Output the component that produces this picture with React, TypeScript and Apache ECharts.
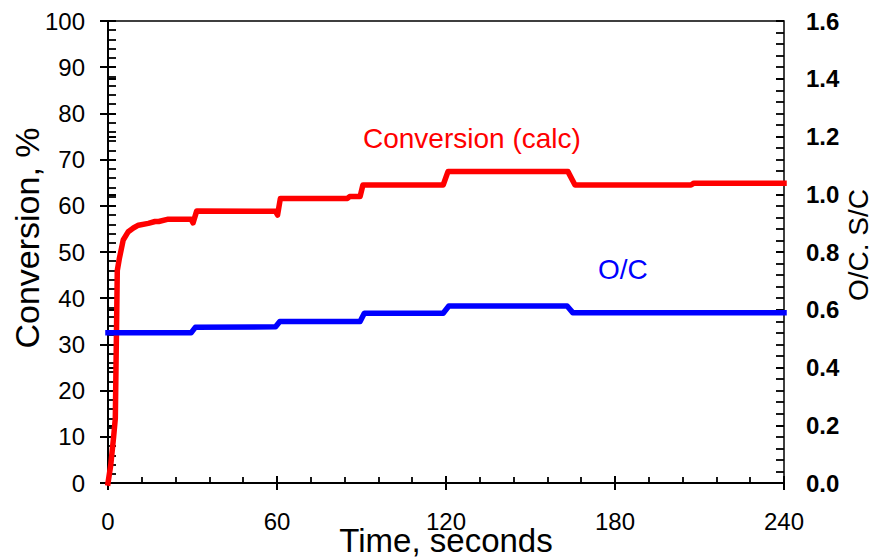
import React, { useEffect, useRef } from "react";
import * as echarts from "echarts";

const FONT = "'Liberation Sans', Arial, sans-serif";

// Conversion (calc), % — left axis
const convTime = [0, 1, 2, 2.6, 3.3, 4, 5.4, 7.2, 9, 10.8, 14.3, 16.7, 18, 21.4, 29.5, 30.2, 31.5, 59.5, 60.2, 61.2, 85, 85.8, 89.5, 90.5, 119, 120.7, 163.3, 165.8, 207, 208, 240];
const convValues = [0, 4, 10, 14, 46, 48.5, 52.6, 54.4, 55.2, 55.8, 56.2, 56.6, 56.6, 57.1, 57.1, 56.3, 58.9, 58.8, 58.0, 61.6, 61.6, 62.0, 62.0, 64.5, 64.5, 67.4, 67.4, 64.5, 64.5, 64.9, 64.9];

// O/C — right axis
const ocTime = [0, 29.5, 31, 59.5, 61, 89.5, 91, 119, 121, 163, 165, 240];
const ocValues = [0.52, 0.52, 0.539, 0.541, 0.559, 0.559, 0.588, 0.588, 0.613, 0.613, 0.59, 0.59];

const xTicks = { min: 0, max: 240, interval: 60 };
const leftTicks = { min: 0, max: 100, interval: 10 };
const rightTicks = { min: 0, max: 1.6, interval: 0.2 };

const BLACK = "#000";

export default function App() {
  const ref = useRef<HTMLDivElement>(null);
  useEffect(() => {
    document.body.style.margin = "0";
    document.body.style.overflow = "hidden";
    if (!ref.current) return;
    const chart = echarts.init(ref.current, null, { renderer: "svg" });
    const tickLine = { color: BLACK, width: 2 };
    const baseX = { type: "value", ...xTicks, position: "bottom", splitLine: { show: false } };
    const option: any = {
      animation: false,
      grid: {
        left: 108,
        right: 90,
        top: 21,
        bottom: 76,
        containLabel: false,
        outerBoundsMode: "none",
        show: true,
        borderColor: BLACK,
        borderWidth: 1.5,
      },
      xAxis: [
        {
          ...baseX,
          name: "Time, seconds",
          nameLocation: "middle",
          nameGap: 41,
          nameMoveOverlap: false,
          nameTextStyle: { fontSize: 33, fontFamily: FONT, color: BLACK },
          axisLine: { show: true, lineStyle: { color: BLACK, width: 2 } },
          axisTick: { show: true, inside: false, length: 7, lineStyle: tickLine },
          axisLabel: { fontSize: 24, fontFamily: FONT, color: BLACK, margin: 26 },
        },
        {
          ...baseX,
          axisLine: { show: false },
          axisTick: { show: true, inside: true, length: 7, lineStyle: tickLine },
          minorTick: { show: true, splitNumber: 5, length: 6, lineStyle: { color: BLACK, width: 1.8 } },
          axisLabel: { show: false },
        },
      ],
      yAxis: [
        {
          type: "value",
          ...leftTicks,
          position: "left",
          name: "Conversion, %",
          nameLocation: "middle",
          nameGap: 64,
          nameMoveOverlap: false,
          nameTextStyle: { fontSize: 34, fontFamily: FONT, color: BLACK, padding: [0, 0, 0, 28] },
          axisLine: { show: true, lineStyle: { color: BLACK, width: 2 } },
          axisTick: { show: true, inside: false, length: 8, lineStyle: tickLine },
          axisLabel: { fontSize: 24, fontFamily: FONT, color: BLACK, margin: 23 },
          splitLine: { show: false },
        },
        {
          type: "value",
          ...rightTicks,
          position: "right",
          name: "O/C. S/C",
          nameLocation: "middle",
          nameRotate: 90,
          nameGap: 60,
          nameMoveOverlap: false,
          nameTextStyle: { fontSize: 28, fontFamily: FONT, color: BLACK, padding: [0, 0, 0, 14] },
          axisLine: { show: true, lineStyle: { color: BLACK, width: 2 } },
          axisTick: { show: true, inside: false, length: 8, lineStyle: tickLine },
          axisLabel: {
            fontSize: 24,
            fontWeight: "bold",
            fontFamily: FONT,
            color: BLACK,
            margin: 22,
            formatter: (v: number) => v.toFixed(1),
          },
          splitLine: { show: false },
        },
        {
          type: "value",
          ...leftTicks,
          position: "left",
          axisLine: { show: false },
          axisTick: { show: true, inside: true, length: 8, lineStyle: tickLine },
          minorTick: { show: true, splitNumber: 5, length: 8, lineStyle: { color: BLACK, width: 1.8 } },
          axisLabel: { show: false },
          splitLine: { show: false },
        },
        {
          type: "value",
          ...rightTicks,
          position: "right",
          axisLine: { show: false },
          axisTick: { show: true, inside: true, length: 8, lineStyle: tickLine },
          minorTick: { show: true, splitNumber: 5, length: 8, lineStyle: { color: BLACK, width: 1.8 } },
          axisLabel: { show: false },
          splitLine: { show: false },
        },
      ],
      series: [
        {
          name: "Conversion (calc)",
          type: "line",
          xAxisIndex: 0,
          yAxisIndex: 0,
          data: convTime.map((t, i) => [t, convValues[i]]),
          symbol: "none",
          clip: false,
          lineStyle: { color: "#ff0000", width: 5.5, cap: "square", join: "round" },
          z: 3,
        },
        {
          name: "O/C",
          type: "line",
          xAxisIndex: 0,
          yAxisIndex: 1,
          data: ocTime.map((t, i) => [t, ocValues[i]]),
          symbol: "none",
          clip: false,
          lineStyle: { color: "#0000ff", width: 5.5, cap: "square", join: "round" },
          z: 4,
        },
      ],
      graphic: [
        {
          type: "text",
          left: 363,
          top: 124,
          style: { text: "Conversion (calc)", fill: "#ff0000", fontSize: 28, fontFamily: FONT },
        },
        {
          type: "text",
          left: 598,
          top: 255,
          style: { text: "O/C", fill: "#0000ff", fontSize: 28, fontFamily: FONT },
        },
      ],
    };
    chart.setOption(option);
    return () => chart.dispose();
  }, []);
  return <div ref={ref} style={{ width: 874, height: 559 }} />;
}
